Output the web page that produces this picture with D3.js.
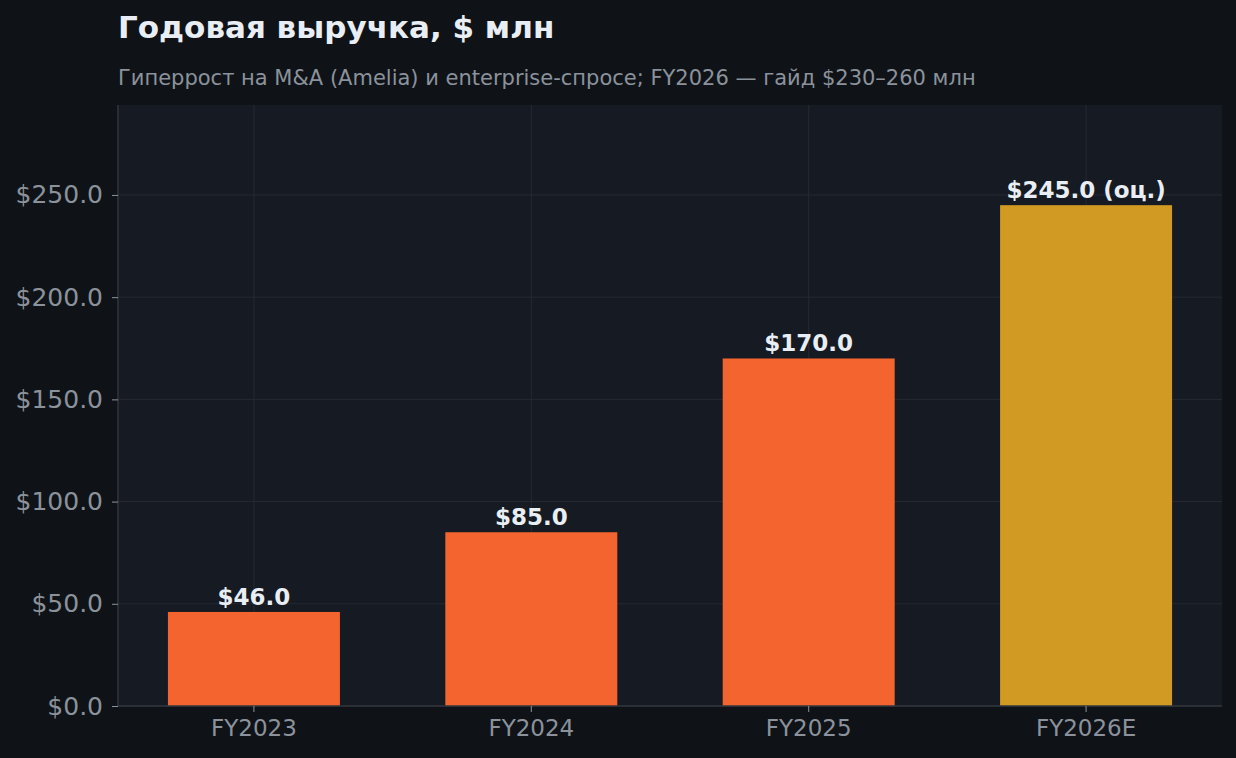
<!DOCTYPE html>
<html>
<head>
<meta charset="utf-8">
<script src="https://cdn.jsdelivr.net/npm/d3@7"></script>
<style>
  html, body { margin: 0; padding: 0; background: #0f1318; }
  svg { display: block; font-family: "DejaVu Sans", sans-serif; }
</style>
</head>
<body>
<svg id="chart" width="1236" height="758"></svg>
<script>
// data
const years = ['FY2023', 'FY2024', 'FY2025', 'FY2026E'];
const revenue = [46, 85, 170, 245];
const barLabels = ['$46.0', '$85.0', '$170.0', '$245.0 (оц.)'];
const estimated = [false, false, false, true];
const yTicks = [0, 50, 100, 150, 200, 250];

const width = 1236, height = 758;
const margin = { top: 105, right: 14, bottom: 52, left: 118 };
const drawWidth = width - margin.left - margin.right;
const drawHeight = height - margin.top - margin.bottom;

const svg = d3.select('#chart');

svg.append('rect').attr('width', width).attr('height', height).attr('fill', '#0f1318');

svg.append('text')
    .attr('x', margin.left).attr('y', 38)
    .attr('fill', '#e9eef4')
    .attr('font-size', 31).attr('font-weight', 'bold')
    .text('Годовая выручка, $ млн');

svg.append('text')
    .attr('x', margin.left).attr('y', 85)
    .attr('fill', '#8b929b')
    .attr('font-size', 21)
    .text('Гиперрост на M&A (Amelia) и enterprise-спросе; FY2026 — гайд $230–260 млн');

const g = svg.append('g').attr('transform', `translate(${margin.left},${margin.top})`);

g.append('rect').attr('width', drawWidth).attr('height', drawHeight).attr('fill', '#161a22');

const xScale = d3.scaleBand().domain(years).range([0, drawWidth]).paddingInner(0.38).paddingOuter(0.18);
const yScale = d3.scaleLinear().domain([0, d3.max(revenue) * 1.2]).range([drawHeight, 0]);

// grid
g.append('g').selectAll('line').data(yTicks).enter().append('line')
    .attr('x1', 0).attr('x2', drawWidth)
    .attr('y1', d => yScale(d)).attr('y2', d => yScale(d))
    .attr('stroke', '#252a33').attr('stroke-width', 1);
g.append('g').selectAll('line').data(years).enter().append('line')
    .attr('x1', d => xScale(d) + xScale.bandwidth() / 2).attr('x2', d => xScale(d) + xScale.bandwidth() / 2)
    .attr('y1', 0).attr('y2', drawHeight)
    .attr('stroke', '#252a33').attr('stroke-width', 1);

// bars
g.append('g').selectAll('rect').data(years).enter().append('rect')
    .attr('x', d => xScale(d))
    .attr('y', (d, i) => yScale(revenue[i]))
    .attr('width', xScale.bandwidth())
    .attr('height', (d, i) => drawHeight - yScale(revenue[i]))
    .attr('fill', (d, i) => estimated[i] ? '#d19a22' : '#f4642f');

g.append('g').selectAll('text').data(years).enter().append('text')
    .attr('x', d => xScale(d) + xScale.bandwidth() / 2)
    .attr('y', (d, i) => yScale(revenue[i]) - 7)
    .attr('text-anchor', 'middle')
    .attr('fill', '#e9eef4')
    .attr('font-size', 23).attr('font-weight', 'bold')
    .text((d, i) => barLabels[i]);

// axes
const axisLeft = d3.axisLeft(yScale).tickValues(yTicks).tickFormat(d => '$' + d3.format('.1f')(d)).tickSize(6).tickPadding(9);
const axisBottom = d3.axisBottom(xScale).tickSize(6).tickPadding(8);

const ya = g.append('g').call(axisLeft);
const xa = g.append('g').attr('transform', `translate(0,${drawHeight})`).call(axisBottom);

[ya, xa].forEach(a => {
    a.select('.domain').attr('stroke', '#30363d').attr('stroke-width', 1.5);
    a.selectAll('.tick line').attr('stroke', '#8b929b');
    a.selectAll('.tick text').attr('fill', '#8b929b').attr('font-family', '"DejaVu Sans", sans-serif');
});
ya.selectAll('.tick text').attr('font-size', 25);
xa.selectAll('.tick text').attr('font-size', 23);
ya.select('.domain').attr('d', `M0,0V${drawHeight}`);
xa.select('.domain').attr('d', `M0,0H${drawWidth}`);
</script>
</body>
</html>
